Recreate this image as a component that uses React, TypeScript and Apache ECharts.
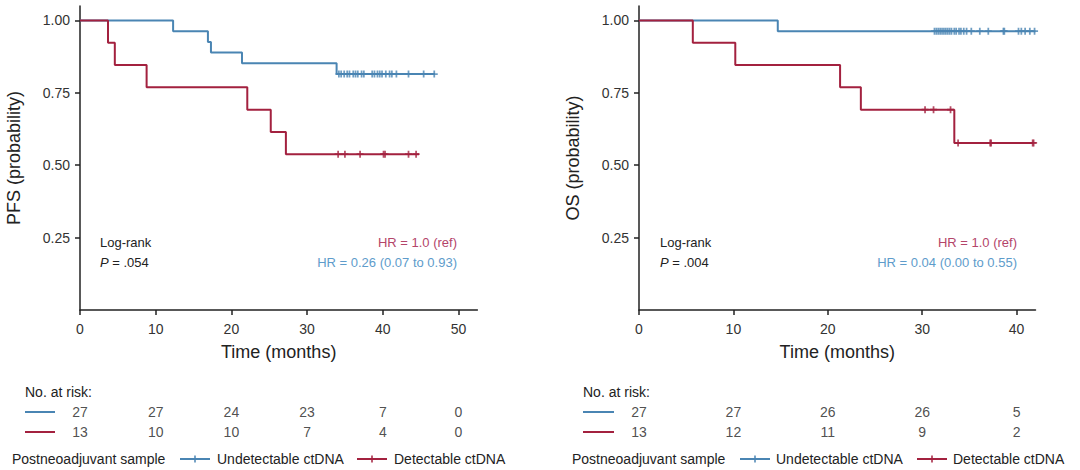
import React, { useEffect, useRef } from "react";
import * as echarts from "echarts";

// ---------- data ----------
const xTicksPFS = [0, 10, 20, 30, 40, 50];
const xTicksOS = [0, 10, 20, 30, 40];
const yTicks = [0.25, 0.5, 0.75, 1.0];

const pfsUndetTimes = [0, 12.3, 16.9, 17.3, 21.4, 33.9];
const pfsUndetSurv = [1, 0.963, 0.926, 0.889, 0.852, 0.815];
const pfsUndetEnd = 46.9;
const pfsUndetCensor = [34.2, 34.5, 34.9, 35.3, 35.6, 36.1, 36.4, 36.7, 37.2, 37.5, 38.6, 38.9, 39.3, 39.6, 39.9, 40.4, 40.9, 41.2, 41.8, 43.4, 45.4, 46.8];

const pfsDetTimes = [0, 3.7, 4.6, 8.8, 22.1, 25.2, 27.2];
const pfsDetSurv = [1, 0.923, 0.846, 0.769, 0.692, 0.615, 0.538];
const pfsDetEnd = 44.8;
const pfsDetCensor = [34.1, 35.0, 37.0, 40.1, 40.3, 43.4, 44.4];

const osUndetTimes = [0, 14.7];
const osUndetSurv = [1, 0.963];
const osUndetEnd = 42.0;
const osUndetCensor = [31.3, 31.5, 31.7, 31.9, 32.1, 32.3, 32.5, 32.7, 32.9, 33.1, 33.4, 33.6, 33.9, 34.1, 34.4, 34.7, 35.2, 36.1, 37.0, 38.6, 38.7, 40.2, 40.5, 40.9, 41.4, 41.9];

const osDetTimes = [0, 5.7, 10.2, 21.3, 23.5, 33.4];
const osDetSurv = [1, 0.923, 0.846, 0.769, 0.692, 0.577];
const osDetEnd = 41.8;
const osDetCensor = [30.3, 31.2, 33.0, 33.8, 37.2, 37.3, 41.7, 41.8];

const pfsRiskUndet = [27, 27, 24, 23, 7, 0];
const pfsRiskDet = [13, 10, 10, 7, 4, 0];
const osRiskUndet = [27, 27, 26, 26, 5];
const osRiskDet = [13, 12, 11, 9, 2];

// ---------- styling ----------
const BLUE = "#4a85b3";
const RED = "#a3213f";
const BLUE_TXT = "#5e9ccb";
const RED_TXT = "#b4456a";
const AXIS = "#222";
const TXT = "#333";
const FONT = '"Liberation Sans", Arial, sans-serif';
const PLUS = "path://M3,0H5V3H8V5H5V8H3V5H0V3H3Z";

function stepData(times: number[], surv: number[], end: number) {
  const d = times.map((t, i) => [t, surv[i]]);
  d.push([end, surv[surv.length - 1]]);
  return d;
}
function survAt(times: number[], surv: number[], t: number) {
  let s = surv[0];
  for (let i = 0; i < times.length; i++) if (times[i] <= t) s = surv[i];
  return s;
}
function censorData(times: number[], surv: number[], cens: number[]) {
  return cens.map((c) => [c, survAt(times, surv, c)]);
}
function riskData(ticks: number[], undet: number[], det: number[]) {
  const d: any[] = [];
  ticks.forEach((t, i) => {
    d.push([t, 0, undet[i]]);
    d.push([t, 1, det[i]]);
  });
  return d;
}

function txt(text: string, x: number, y: number, size: number, fill: string, align = "left", extra: any = {}) {
  return {
    type: "text",
    x,
    y,
    silent: true,
    style: {
      text,
      fill,
      font: `${size}px ${FONT}`,
      textAlign: align,
      textVerticalAlign: "middle",
      align,
      verticalAlign: "middle",
      ...extra,
    },
  };
}
function hline(x1: number, x2: number, y: number, color: string) {
  return { type: "line", silent: true, shape: { x1, y1: y, x2, y2: y }, style: { stroke: color, lineWidth: 2 } };
}
function vtick(x: number, y: number, color: string) {
  return { type: "line", silent: true, shape: { x1: x, y1: y - 3.5, x2: x, y2: y + 3.5 }, style: { stroke: color, lineWidth: 1.5 } };
}

const PFS_MAX = 52.5;
const OS_MAX = 42;
const L0 = 80, W0 = 397.4;
const L1 = 639, W1 = 396.5;

function xAxisPlot(grid: number, max: number, ticks: number[]) {
  return {
    gridIndex: grid,
    type: "value",
    min: 0,
    max,
    name: "Time (months)",
    nameLocation: "middle",
    nameGap: 33,
    nameTextStyle: { fontSize: 18, color: AXIS, fontFamily: FONT },
    axisLine: { show: true, onZero: false, lineStyle: { color: AXIS, width: 1.5 } },
    axisTick: { show: true, length: 5, customValues: ticks, lineStyle: { color: AXIS, width: 1.5 } },
    axisLabel: { customValues: ticks, fontSize: 14, color: TXT, margin: 12, fontFamily: FONT },
    splitLine: { show: false },
  };
}
function yAxisPlot(grid: number, name: string) {
  return {
    gridIndex: grid,
    type: "value",
    min: 0,
    max: 1.05,
    name,
    nameLocation: "middle",
    nameGap: 57,
    nameTextStyle: { fontSize: 18, color: AXIS, fontFamily: FONT },
    axisLine: { show: true, onZero: false, lineStyle: { color: AXIS, width: 1.5 } },
    axisTick: { show: true, length: 5, customValues: yTicks, lineStyle: { color: AXIS, width: 1.5 } },
    axisLabel: {
      customValues: yTicks,
      fontSize: 14,
      color: TXT,
      margin: 10,
      fontFamily: FONT,
      formatter: (v: number) => v.toFixed(2),
    },
    splitLine: { show: false },
  };
}

function kmSeries(grid: number, times: number[], surv: number[], end: number, cens: number[], color: string, name: string) {
  return [
    {
      name,
      type: "line",
      xAxisIndex: grid,
      yAxisIndex: grid,
      step: "end",
      symbol: "none",
      lineStyle: { color, width: 2 },
      data: stepData(times, surv, end),
      z: 3,
    },
    {
      name,
      type: "scatter",
      xAxisIndex: grid,
      yAxisIndex: grid,
      symbol: PLUS,
      symbolSize: 7,
      itemStyle: { color },
      data: censorData(times, surv, cens),
      z: 4,
    },
  ];
}
function riskSeries(grid: number, ticks: number[], undet: number[], det: number[]) {
  return {
    type: "scatter",
    xAxisIndex: grid,
    yAxisIndex: grid,
    symbolSize: 1,
    itemStyle: { color: "transparent" },
    label: {
      show: true,
      position: "inside",
      fontSize: 14,
      color: AXIS,
      fontFamily: FONT,
      formatter: (p: any) => String(p.value[2]),
    },
    data: riskData(ticks, undet, det),
  };
}

function legendRow(x0: number, lineA: number, textA: number, lineB: number, textB: number, y: number) {
  return [
    txt("Postneoadjuvant sample", x0, y, 14, AXIS),
    hline(lineA, lineA + 30, y, BLUE),
    vtick(lineA + 15, y, BLUE),
    txt("Undetectable ctDNA", textA, y, 14, AXIS),
    hline(lineB, lineB + 30, y, RED),
    vtick(lineB + 15, y, RED),
    txt("Detectable ctDNA", textB, y, 14, AXIS),
  ];
}

export default function App() {
  const ref = useRef<HTMLDivElement>(null);
  useEffect(() => {
    if (!ref.current) return;
    const chart = echarts.init(ref.current, undefined, { renderer: "svg" });
    const italic = { rich: { i: { fontStyle: "italic", font: `italic 13px ${FONT}`, fill: AXIS } } };
    chart.setOption({
      animation: false,
      backgroundColor: "#fff",
      textStyle: { fontFamily: FONT },
      grid: [
        { left: L0, top: 6, width: W0, height: 304, outerBoundsMode: "none", containLabel: false },
        { left: L1, top: 6, width: W1, height: 304, outerBoundsMode: "none", containLabel: false },
        { left: L0, top: 402, width: W0, height: 40, outerBoundsMode: "none", containLabel: false },
        { left: L1, top: 402, width: W1, height: 40, outerBoundsMode: "none", containLabel: false },
      ],
      xAxis: [
        xAxisPlot(0, PFS_MAX, xTicksPFS),
        xAxisPlot(1, OS_MAX, xTicksOS),
        { gridIndex: 2, type: "value", min: 0, max: PFS_MAX, show: false },
        { gridIndex: 3, type: "value", min: 0, max: OS_MAX, show: false },
      ],
      yAxis: [
        yAxisPlot(0, "PFS (probability)"),
        yAxisPlot(1, "OS (probability)"),
        { gridIndex: 2, type: "category", data: ["u", "d"], inverse: true, show: false },
        { gridIndex: 3, type: "category", data: ["u", "d"], inverse: true, show: false },
      ],
      series: [
        ...kmSeries(0, pfsUndetTimes, pfsUndetSurv, pfsUndetEnd, pfsUndetCensor, BLUE, "Undetectable ctDNA"),
        ...kmSeries(0, pfsDetTimes, pfsDetSurv, pfsDetEnd, pfsDetCensor, RED, "Detectable ctDNA"),
        ...kmSeries(1, osUndetTimes, osUndetSurv, osUndetEnd, osUndetCensor, BLUE, "Undetectable ctDNA"),
        ...kmSeries(1, osDetTimes, osDetSurv, osDetEnd, osDetCensor, RED, "Detectable ctDNA"),
        riskSeries(2, xTicksPFS, pfsRiskUndet, pfsRiskDet),
        riskSeries(3, xTicksOS, osRiskUndet, osRiskDet),
      ],
      graphic: [
        txt("Log-rank", 100, 242, 13, AXIS),
        txt("{i|P} = .054", 100, 262, 13, AXIS, "left", italic),
        txt("HR = 1.0 (ref)", 457, 242, 13, RED_TXT, "right"),
        txt("HR = 0.26 (0.07 to 0.93)", 457, 262, 13, BLUE_TXT, "right"),
        txt("Log-rank", 660, 242, 13, AXIS),
        txt("{i|P} = .004", 660, 262, 13, AXIS, "left", italic),
        txt("HR = 1.0 (ref)", 1017, 242, 13, RED_TXT, "right"),
        txt("HR = 0.04 (0.00 to 0.55)", 1017, 262, 13, BLUE_TXT, "right"),
        txt("No. at risk:", 25, 392, 14, AXIS),
        hline(25, 55, 412, BLUE),
        hline(25, 55, 432, RED),
        txt("No. at risk:", 583, 392, 14, AXIS),
        hline(583, 614, 412, BLUE),
        hline(583, 614, 432, RED),
        ...legendRow(12, 180, 217, 357, 394, 459),
        ...legendRow(572, 740, 776, 917, 953, 459),
      ],
    });
    return () => chart.dispose();
  }, []);
  return (
    <div
      ref={ref}
      style={{ position: "fixed", left: 0, top: 0, width: 1080, height: 470, background: "#fff" }}
    />
  );
}
